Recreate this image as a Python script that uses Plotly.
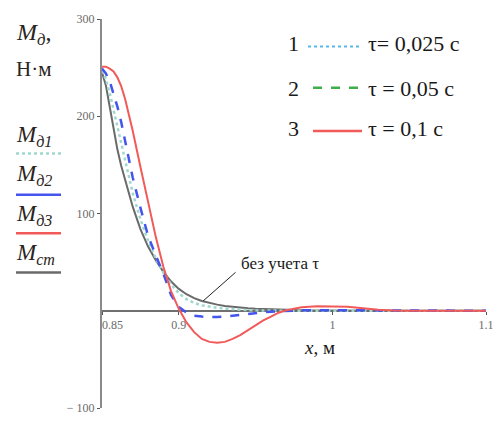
import plotly.graph_objects as go

# ---- data ----
x_vals = [0.85, 0.8525, 0.855, 0.8575, 0.86, 0.8625, 0.865, 0.8675, 0.87, 0.875,
          0.88, 0.885, 0.89, 0.895, 0.9, 0.905, 0.91, 0.915, 0.92, 0.925,
          0.93, 0.935, 0.94, 0.945, 0.95, 0.955, 0.96, 0.965, 0.97, 0.975,
          0.98, 0.99, 1.0, 1.01, 1.02, 1.03, 1.04, 1.05, 1.1]

m_st = [245, 232, 210, 188, 166, 149, 134, 120, 107, 84,
        66, 52, 40, 30, 22.5, 17, 13, 10, 8, 6.3,
        5, 4, 3.2, 2.5, 2, 1.6, 1.2, 0.9, 0.7, 0.5,
        0.4, 0.3, 0.2, 0.1, 0.05, 0, 0, 0, 0]

m_d1 = [247, 238, 224, 207, 188, 172, 153, 136, 121, 94,
        72, 54, 39, 27, 18, 12, 8, 5.5, 4, 3,
        2.2, 1.5, 1, 0.6, 0.3, 0.1, 0, 0, 0, 0,
        0, 0, 0, 0, 0, 0, 0, 0, 0]

m_d2 = [249, 244, 236, 224, 210, 194, 174, 154, 137, 106,
        77, 57, 38, 16, 4, -2, -5, -6, -6.5, -6.5,
        -6, -5, -4, -3, -2, -1.5, -1, -0.5, 0, 0.3,
        0.5, 0.6, 0.5, 0.3, 0.2, 0.1, 0, 0, 0]

m_d3 = [251, 251, 249, 246, 240, 231, 218, 202, 185, 148,
        113, 76, 45, 20, 2, -12, -22, -29, -32, -33,
        -32, -29, -25, -20, -15, -10, -6, -2, 0.5, 2,
        3.5, 4.5, 4.5, 4, 2.5, 1, 0.3, 0, 0]

x_ticks = [0.85, 0.9, 1, 1.1]
x_tick_text = ["\u00a0" * 7 + "0.85", "0.9", "1", "1.1"]
y_ticks = [-100, 100, 200, 300]
y_tick_text = ["\u2212 100", "100", "200", "300"]

legend_nums = ["1", "2", "3"]
legend_texts = ["\u03c4= 0,025 с", "\u03c4 = 0,05 с", "\u03c4 = 0,1 с"]

SERIF = "Liberation Serif, DejaVu Serif, serif"
W, H = 502, 423
ML, MR, MT, MB = 102, 16, 19, 8

def pxx(px):
    return (px - ML) / (W - ML - MR)

def pxy(py):
    return (H - MB - py) / (H - MT - MB)

fig = go.Figure()
fig.add_trace(go.Scatter(x=x_vals, y=m_st, mode="lines",
                         line=dict(color="#6a6a6a", width=2), name="Mст"))
fig.add_trace(go.Scatter(x=x_vals, y=m_d1, mode="lines",
                         line=dict(color="#9fd8cf", width=2.5, dash="dot"), name="Mд1"))
fig.add_trace(go.Scatter(x=x_vals, y=m_d2, mode="lines",
                         line=dict(color="#4455ee", width=2.5, dash="dash"), name="Mд2"))
fig.add_trace(go.Scatter(x=x_vals, y=m_d3, mode="lines",
                         line=dict(color="#f25a5a", width=2), name="Mд3"))

annotations = []
shapes = []

# left labels
txt_col = "#2a2420"
annotations.append(dict(xref="paper", yref="paper", x=pxx(14), y=pxy(34), xanchor="left",
                        yanchor="middle", showarrow=False,
                        text="<i>M</i><sub><i>д</i></sub>,",
                        font=dict(family=SERIF, size=24, color=txt_col)))
annotations.append(dict(xref="paper", yref="paper", x=pxx(14), y=pxy(70), xanchor="left",
                        yanchor="middle", showarrow=False, text="Н·м",
                        font=dict(family=SERIF, size=21, color=txt_col)))
left_labels = [("<i>M</i><sub><i>д1</i></sub>", 138, 156, "#9fd8cf", "dot"),
               ("<i>M</i><sub><i>д2</i></sub>", 178, 198, "#4455ee", "solid"),
               ("<i>M</i><sub><i>д3</i></sub>", 219, 237, "#f25a5a", "solid"),
               ("<i>M</i><sub><i>ст</i></sub>", 258, 277, "#6a6a6a", "solid")]
for txt, ty, ly, col, dash in left_labels:
    annotations.append(dict(xref="paper", yref="paper", x=pxx(14), y=pxy(ty), xanchor="left",
                            yanchor="middle", showarrow=False, text=txt,
                            font=dict(family=SERIF, size=23, color=txt_col)))
    shapes.append(dict(type="line", xref="paper", yref="paper",
                       x0=pxx(16), x1=pxx(61), y0=pxy(ly), y1=pxy(ly),
                       line=dict(color=col, width=2.5, dash=dash)))

# top-right legend
leg_rows = [(44, 47, "#5ab8e8", "dot", 308, 360),
            (90, 89, "#3fae4a", "dash", 313, 360),
            (130, 133, "#f25a5a", "solid", 313, 362)]
for (ty, ly, col, dash, lx0, lx1), num, txt in zip(leg_rows, legend_nums, legend_texts):
    annotations.append(dict(xref="paper", yref="paper", x=pxx(286), y=pxy(ty), xanchor="left",
                            yanchor="middle", showarrow=False, text=num,
                            font=dict(family=SERIF, size=22, color="#1a1a1a")))
    annotations.append(dict(xref="paper", yref="paper", x=pxx(366), y=pxy(ty), xanchor="left",
                            yanchor="middle", showarrow=False, text=txt,
                            font=dict(family=SERIF, size=22, color="#1a1a1a")))
    shapes.append(dict(type="line", xref="paper", yref="paper",
                       x0=pxx(lx0), x1=pxx(lx1), y0=pxy(ly), y1=pxy(ly),
                       line=dict(color=col, width=2.5 if dash != "dot" else 2, dash=dash)))

# note with pointer
annotations.append(dict(xref="x", yref="y", x=0.9395, y=49, xanchor="left", yanchor="middle",
                        showarrow=False, text="без учета \u03c4",
                        font=dict(family=SERIF, size=17, color="#1a1a1a")))
annotations.append(dict(xref="x", yref="y", x=0.9158, y=10, text="", showarrow=True,
                        arrowhead=0, arrowwidth=1, arrowcolor="#222", ax=34, ay=-30))

# x axis title
annotations.append(dict(xref="paper", yref="paper", x=pxx(319), y=pxy(353), xanchor="center",
                        yanchor="middle", showarrow=False, text="<i>x</i>, м",
                        font=dict(family=SERIF, size=19, color="#1a1a1a")))

fig.update_layout(
    width=W, height=H,
    margin=dict(l=ML, r=MR, t=MT, b=MB, pad=0),
    paper_bgcolor="white", plot_bgcolor="white",
    showlegend=False,
    annotations=annotations, shapes=shapes,
    xaxis=dict(range=[0.85, 1.1], tickvals=x_ticks, ticktext=x_tick_text,
               showline=True, linecolor="#707070", linewidth=2,
               anchor="free", position=0.25, showgrid=False, zeroline=False,
               ticks="outside", ticklen=3, tickcolor="#555", tickwidth=1,
               tickfont=dict(family=SERIF, size=12, color="#6a6a6a"),
               layer="below traces"),
    yaxis=dict(range=[-100, 300], tickvals=y_ticks, ticktext=y_tick_text,
               showline=True, linecolor="#8a8a8a", linewidth=2,
               showgrid=False, zeroline=False,
               ticks="outside", ticklen=3, tickcolor="#555", tickwidth=1,
               tickfont=dict(family=SERIF, size=12, color="#6a6a6a"),
               layer="below traces"),
)

fig.write_html("out.html")
